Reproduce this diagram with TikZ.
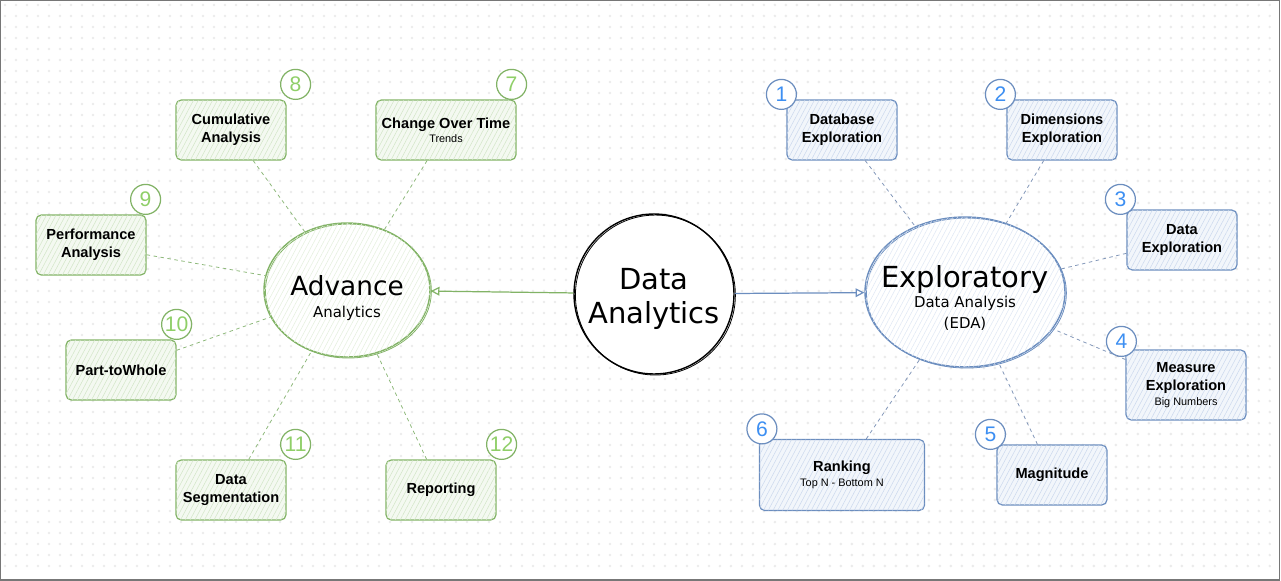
\documentclass[tikz,border=0pt]{standalone}
\usepackage{fontspec}
\setmainfont{Liberation Sans}
\newfontfamily\handfont{DejaVu Sans}
\usetikzlibrary{shapes.geometric,arrows.meta,patterns.meta,positioning}

% warna
\definecolor{grline}{HTML}{82B366}
\definecolor{grfill}{HTML}{F4F9F1}
\definecolor{grhatch}{HTML}{D3E6C8}
\definecolor{grnum}{HTML}{8FCF68}
\definecolor{grcon}{HTML}{8DB87A}
\definecolor{blline}{HTML}{6C8EBF}
\definecolor{blfill}{HTML}{F2F6FB}
\definecolor{blhatch}{HTML}{CCD9EE}
\definecolor{blnum}{HTML}{3D8FF2}
\definecolor{blcon}{HTML}{8196B8}
\definecolor{dotcol}{HTML}{EBEBEB}
\definecolor{framecol}{HTML}{777777}

\newcommand{\subtxt}[1]{{\fontsize{6.2}{7.5}\selectfont\mdseries #1}}

\tikzset{
  hatch/.style={postaction={pattern={Lines[angle=62,distance=2.4pt,line width=0.3pt]},pattern color=#1}},
  sketch/.style={postaction={draw,line width=0.45pt,transform canvas={xshift=0.8pt,yshift=-0.6pt}}},
  boxbase/.style={rounded corners=3pt, line width=0.7pt, minimum width=2.2cm, minimum height=1.2cm,
    align=center, inner sep=2pt, font=\fontsize{8.3}{10.2}\selectfont\bfseries},
  gbox/.style={boxbase, draw=grline, fill=grfill, hatch=grhatch},
  bbox/.style={boxbase, draw=blline, fill=blfill, hatch=blhatch},
  gbadge/.style={circle, draw=grline, fill=white, line width=0.7pt, minimum size=0.6cm, inner sep=0pt,
    text=grnum, font=\fontsize{12}{12}\selectfont},
  bbadge/.style={gbadge, draw=blline, text=blnum},
  bigc/.style={ellipse, inner sep=0pt, line width=0.8pt, sketch},
  bigtxt/.style={align=center, inner sep=0pt},
  gline/.style={draw=grcon, line width=0.45pt, dash pattern=on 2pt off 2pt},
  bline/.style={gline, draw=blcon},
  dotrow/.style={draw=dotcol, line width=1.6pt, line cap=round, dash pattern=on 0pt off 6.26pt},
}

\begin{document}
\begin{tikzpicture}[x=0.02cm, y=-0.02cm]
  \useasboundingbox (0,0) rectangle (1281,581);
  % latar titik-titik
  \foreach \r in {0,...,51}
    \draw[dotrow] (5,5+11*\r) -- (1276,5+11*\r);
  \draw[framecol, line width=0.6pt] (0.5,0.5) rectangle (1279.5,580);

  % lingkaran utama
  \node (data) [bigc, circle, draw=black, fill=white, minimum size=3.2cm] at (654,294) {};
  \node (adv) [bigc, draw=grline, fill=white, hatch=grhatch!60, minimum width=3.32cm, minimum height=2.68cm] at (347,290) {};
  \node (eda) [bigc, draw=blline, fill=white, hatch=blhatch!60, minimum width=4cm, minimum height=3cm] at (965,292) {};

  % teks lingkaran
  \node (datatxt) [bigtxt, font=\handfont\fontsize{16.5}{19.3}\selectfont] at ([yshift=-0.1cm]data.center) {Data\\Analytics};
  \node (advtxt) [bigtxt, font=\handfont\fontsize{8.5}{13}\selectfont] at ([yshift=-0.16cm]adv.center)
    {{\fontsize{15}{15}\selectfont Advance}\\Analytics};
  \node (edatxt) [bigtxt, font=\handfont\fontsize{8.5}{12}\selectfont] at ([yshift=-0.12cm]eda.center)
    {{\fontsize{16.5}{16.5}\selectfont Exploratory}\\[-0.5pt]Data Analysis\\(EDA)};

  % kotak hijau (kiri)
  \node (chg) [gbox, minimum width=2.8cm] at (446,130) {Change Over Time\\[-2pt]\subtxt{Trends}};
  \node (cum) [gbox] at (231,130) {Cumulative\\Analysis};
  \node (perf) [gbox] at (91,245) {Performance\\Analysis};
  \node (part) [gbox] at (121,370) {Part-toWhole};
  \node (seg) [gbox] at (231,490) {Data\\Segmentation};
  \node (rep) [gbox] at (441,490) {Reporting};

  % kotak biru (kanan)
  \node (dbx) [bbox] at (842,130) {Database\\Exploration};
  \node (dimx) [bbox] at (1062,130) {Dimensions\\Exploration};
  \node (datx) [bbox] at (1182,240) {Data\\Exploration};
  \node (meas) [bbox, minimum width=2.4cm, minimum height=1.4cm] at (1186,385)
    {Measure\\Exploration\\[-2pt]\subtxt{Big Numbers}};
  \node (mag) [bbox] at (1052,475) {Magnitude};
  \node (rank) [bbox, minimum width=3.3cm, minimum height=1.42cm] at (842,475)
    {Ranking\\[-2pt]\subtxt{Top N - Bottom N}};

  % nomor urut
  \node (n7) [gbadge] at ([shift={(-5,-15)}]chg.north east) {7};
  \node (n8) [gbadge] at ([shift={(9,-15)}]cum.north east) {8};
  \node (n9) [gbadge] at ([shift={(-1,-15)}]perf.north east) {9};
  \node (n10) [gbadge] at ([shift={(0,-15)}]part.north east) {10};
  \node (n11) [gbadge] at ([shift={(9,-15)}]seg.north east) {11};
  \node (n12) [gbadge] at ([shift={(5,-15)}]rep.north east) {12};
  \node (n1) [bbadge] at ([shift={(-5,-5)}]dbx.north west) {1};
  \node (n2) [bbadge] at ([shift={(-6,-5)}]dimx.north west) {2};
  \node (n3) [bbadge] at ([shift={(-6,-10)}]datx.north west) {3};
  \node (n4) [bbadge] at ([shift={(-4,-8)}]meas.north west) {4};
  \node (n5) [bbadge] at ([shift={(-6,-10)}]mag.north west) {5};
  \node (n6) [bbadge] at ([shift={(3,-10)}]rank.north west) {6};

  % panah utama
  \draw[grline, line width=0.7pt, -{Triangle[open,length=5pt,width=5pt]}] (data) -- (adv);
  \draw[blline, line width=0.7pt, -{Triangle[open,length=5pt,width=5pt]}] (data) -- (eda);

  % garis putus-putus
  \draw[gline] (chg) -- (adv);
  \draw[gline] (cum) -- (adv);
  \draw[gline] (perf) -- (adv);
  \draw[gline] (part) -- (adv);
  \draw[gline] (seg) -- (adv);
  \draw[gline] (rep) -- (adv);
  \draw[bline] (dbx) -- (eda);
  \draw[bline] (dimx) -- (eda);
  \draw[bline] (datx) -- (eda);
  \draw[bline] (meas) -- (eda);
  \draw[bline] (mag) -- (eda);
  \draw[bline] (rank) -- (eda);
\end{tikzpicture}
\end{document}
